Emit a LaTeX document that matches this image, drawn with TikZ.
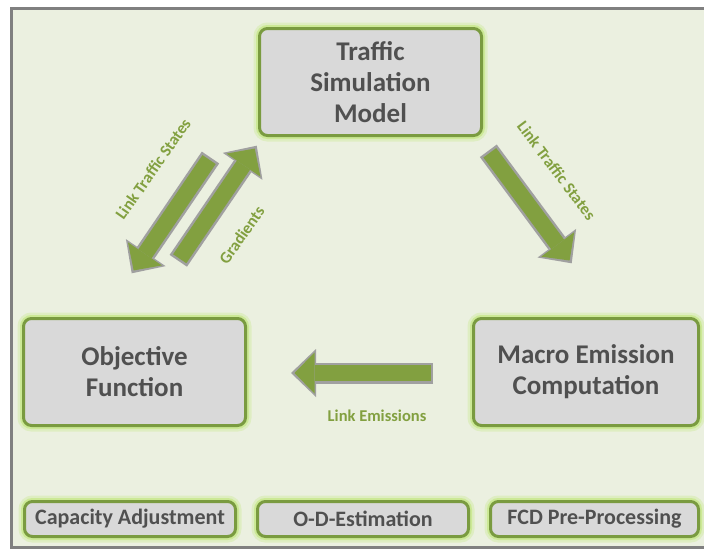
\documentclass[tikz,border=0pt]{standalone}
\usepackage{fontspec}
\setmainfont{Carlito}
\usepackage{tikz}
\usetikzlibrary{arrows.meta}
\definecolor{panelbg}{RGB}{235,240,224}
\definecolor{framegray}{RGB}{128,128,128}
\definecolor{boxgray}{RGB}{217,217,217}
\definecolor{boxgreen}{RGB}{122,155,64}
\definecolor{glowgreen}{RGB}{200,232,140}
\definecolor{arrowgreen}{RGB}{130,160,64}
\definecolor{arrowgray}{RGB}{160,160,160}
\definecolor{textgray}{RGB}{80,80,80}
\tikzstyle{module}=[draw=boxgreen, line width=3pt, fill=boxgray, rounded corners=8pt, text=textgray, align=center, inner sep=0pt,
  preaction={draw=glowgreen, line width=12pt, opacity=0.35}, preaction={draw=glowgreen, line width=7pt, opacity=0.8}]
\tikzstyle{bigmodule}=[module, minimum width=222pt, minimum height=107pt, font=\fontsize{27}{31}\selectfont\bfseries]
\tikzstyle{smallmodule}=[module, minimum width=211pt, minimum height=35pt, font=\fontsize{22}{26}\selectfont\bfseries]
\tikzstyle{flowout}=[draw=arrowgray, line width=21pt, -{Triangle[length=25pt, width=48pt, line width=0pt]}]
\tikzstyle{flowin}=[draw=arrowgreen, line width=16pt, shorten <=2.5pt, shorten >=3.5pt, -{Triangle[length=20pt, width=41pt, line width=0pt]}]
\tikzstyle{flowlabel}=[text=arrowgreen, font=\fontsize{16.5}{19}\selectfont\bfseries]

\begin{document}
\begin{tikzpicture}[x=1pt, y=-1pt]
	\useasboundingbox (0,0) rectangle (704,550);
	\fill[white] (0,0) rectangle (704,550);
	\fill[panelbg] (11.5,8.5) rectangle (704,547);
	\draw[framegray, line width=3pt] (704,8.5) -- (11.5,8.5) -- (11.5,547) -- (704,547);
	\begin{scope}
		\node (sim) at (370.5, 82)[bigmodule] {Traffic\\Simulation\\Model};
		\node (obj) at (134.5, 372)[bigmodule] {Objective\\Function};
		\node (emi) at (586, 372)[bigmodule, minimum width=225pt] {Macro Emission\\Computation};
		\node (cap) at (130, 519)[smallmodule] {Capacity Adjustment};
		\node (od) at (363, 519)[smallmodule] {O-D-Estimation};
		\node (fcd) at (594.5, 519)[smallmodule, minimum width=208pt] {FCD Pre-Processing};
	\end{scope}
	\begin{scope}
		\coordinate (sts0) at (210.5, 157.5);
		\coordinate (sts1) at (131.7, 273.3);
		\coordinate (grd0) at (178.3, 260.8);
		\coordinate (grd1) at (256.7, 145.7);
		\coordinate (ets0) at (488.3, 150.8);
		\coordinate (ets1) at (571.7, 263.3);
		\coordinate (lem0) at (433, 373);
		\coordinate (lem1) at (291, 373);

		\path (sts0) edge[flowout] (sts1);
		\path (sts0) edge[flowin] (sts1);

		\path (grd0) edge[flowout] (grd1);
		\path (grd0) edge[flowin] (grd1);

		\path (ets0) edge[flowout] (ets1);
		\path (ets0) edge[flowin] (ets1);

		\path (lem0) edge[flowout] (lem1);
		\path (lem0) edge[flowin] (lem1);

		\node (lts) at (153, 169)[flowlabel, rotate=55] {Link Traffic States};
		\node (grl) at (241.7, 235)[flowlabel, rotate=55] {Gradients};
		\node (rts) at (556.7, 170.8)[flowlabel, rotate=-53] {Link Traffic States};
		\node (lel) at (377, 416)[flowlabel] {Link Emissions};
	\end{scope}
\end{tikzpicture}
\end{document}
